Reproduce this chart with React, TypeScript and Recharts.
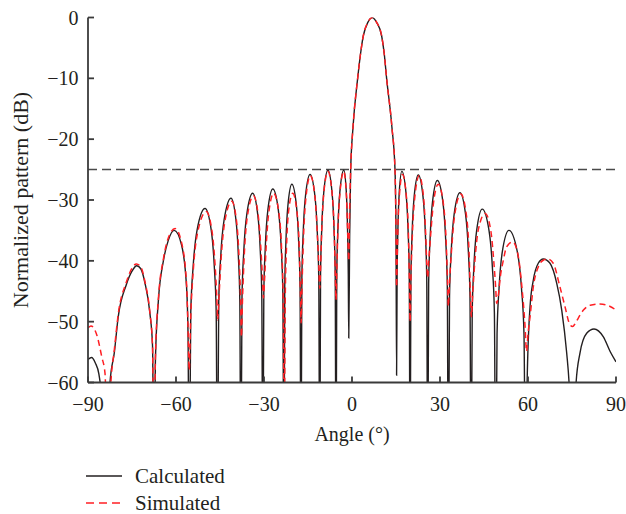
import { LineChart, Line, XAxis, YAxis, ReferenceLine, Legend } from 'recharts';

const FONT = '"Liberation Serif", "Times New Roman", serif';
const INK = '#231f20';
const AXIS = '#3a3a3a';
const RED = '#ff1f24';

// angle ticks and dB ticks
const angleTicks = [-90, -60, -30, 0, 30, 60, 90];
const dbTicks = [-60, -50, -40, -30, -20, -10, 0];
const sidelobeLimit = -25;

// calculated pattern (nulls below -60 get clipped)
const calcAngle = [
  -90, -88.8, -87.5, -86.3, -85.3, -84.0, -82.5, -81.0, -79.7, -77.0, -75.0, -73.4, -72.0, -70.6, -68.9, -68.0, -67.5,
  -67.0, -66.0, -64.3, -62.6, -60.6, -58.1, -56.4, -55.9, -55.5,
  -54.96, -54.15, -52.8, -50.1, -48.0, -46.95, -46.3, -45.9,
  -45.43, -44.74, -43.58, -41.25, -39.58, -38.74, -38.24, -37.9,
  -37.5, -36.89, -35.88, -33.85, -32.13, -31.26, -30.75, -30.4,
  -30.06, -29.55, -28.7, -27.0, -25.1, -24.15, -23.58, -23.2,
  -22.93, -22.53, -21.85, -20.5, -18.95, -18.18, -17.71, -17.4,
  -17.09, -16.63, -15.85, -14.3, -12.65, -11.83, -11.33, -11.0,
  -10.72, -10.3, -9.6, -8.2, -6.83, -6.14, -5.73, -5.45,
  -5.19, -4.79, -4.13, -2.8, -1.95, -1.53, -1.27, -1.1,
  -0.8, -0.45, 0.35, 1.93, 2.9, 3.86, 5.4, 6.9, 8.4, 10.1, 11.0, 11.8, 13.6, 14.66, 15.0, 15.2,
  15.38, 15.65, 16.1, 17.0, 18.4, 19.1, 19.52, 19.8,
  20.08, 20.5, 21.2, 22.6, 24.2, 25.0, 25.48, 25.8,
  26.13, 26.63, 27.45, 29.1, 30.98, 31.91, 32.48, 32.85,
  33.25, 33.84, 34.83, 36.8, 38.7, 39.65, 40.22, 40.6,
  40.98, 41.55, 42.5, 44.4, 46.7, 47.85, 48.54, 49.0,
  49.45, 50.13, 51.25, 53.5, 56.35, 57.78, 58.63, 59.2,
  59.7, 60.7, 61.8, 63.5, 65.2, 67.5, 69.8, 71.5, 73.2, 74.0, 75.2,
  76.4, 77.7, 80.0, 82.5, 85.7, 88.0, 90,
];
const calcDb = [
  -56.2, -55.9, -56.8, -58.6, -63, -80, -60, -55, -49.2, -44, -41.7, -40.8, -41.3, -43.6, -48.6, -54, -80,
  -56, -46.5, -40, -36.6, -35.0, -37.4, -44.3, -52, -80,
  -48.4, -40.9, -34.9, -31.4, -34.9, -40.9, -48.4, -80,
  -46.7, -39.2, -33.2, -29.7, -33.2, -39.2, -46.7, -80,
  -45.9, -38.4, -32.4, -28.9, -32.4, -38.4, -45.9, -80,
  -45.2, -37.7, -31.7, -28.2, -31.7, -37.7, -45.2, -80,
  -44.4, -36.9, -30.9, -27.4, -30.9, -36.9, -44.4, -80,
  -42.8, -35.3, -29.3, -25.8, -29.3, -35.3, -42.8, -80,
  -42.1, -34.6, -28.6, -25.1, -28.6, -34.6, -42.1, -80,
  -42.1, -34.6, -28.6, -25.1, -28.6, -34.6, -42.1, -52.7,
  -36, -25, -18, -10, -6, -3, -0.8, 0, -0.8, -3, -6, -10, -18, -25, -36, -58.8,
  -42.3, -34.8, -28.8, -25.3, -28.8, -34.8, -42.3, -80,
  -42.9, -35.4, -29.4, -25.9, -29.4, -35.4, -42.9, -80,
  -43.8, -36.3, -30.3, -26.8, -30.3, -36.3, -43.8, -80,
  -45.8, -38.3, -32.3, -28.8, -32.3, -38.3, -45.8, -80,
  -48.5, -41.0, -35.0, -31.5, -35.0, -41.0, -48.5, -80,
  -52, -44.5, -38.5, -35.0, -38.5, -44.5, -52, -80,
  -60, -47.5, -43.2, -40.4, -39.7, -40.4, -43.7, -48.1, -55.2, -60, -75,
  -60, -55.2, -51.9, -51.2, -52.5, -54.9, -56.6,
];

// simulated pattern
const simAngle = [
  -90, -89.0, -87.0, -85.3, -84.2, -83.3, -82.2, -81.0, -79.7, -77.0, -75.0, -73.5, -72.0, -70.6, -68.9, -68.0, -67.5,
  -67.0, -66.0, -64.3, -62.6, -60.3, -58.1, -56.4, -55.9, -55.5,
  -54.96, -54.1, -52.6, -49.7, -47.7, -46.7, -46.1, -45.8,
  -45.3, -44.6, -43.4, -41.0, -39.3, -38.5, -38.0, -37.7,
  -37.3, -36.7, -35.7, -33.6, -31.9, -31.0, -30.5, -30.2,
  -29.8, -29.3, -28.4, -26.7, -24.9, -24.0, -23.45, -23.1,
  -22.75, -22.3, -21.6, -20.2, -18.8, -18.0, -17.6, -17.35,
  -17.0, -16.5, -15.7, -14.2, -12.6, -11.8, -11.3, -11.0,
  -10.7, -10.3, -9.6, -8.2, -6.8, -6.1, -5.7, -5.45,
  -5.2, -4.8, -4.1, -2.8, -1.95, -1.5, -1.25, -1.1,
  -0.9, -0.45, 0.35, 1.93, 2.9, 3.86, 5.4, 6.9, 8.4, 10.1, 11.0, 11.8, 13.6, 14.66, 15.0, 15.2,
  15.4, 15.7, 16.2, 17.2, 18.5, 19.2, 19.55, 19.8,
  20.1, 20.6, 21.4, 22.9, 24.4, 25.1, 25.5, 25.8,
  26.1, 26.7, 27.7, 29.4, 31.2, 32.1, 32.55, 32.85,
  33.2, 33.9, 35.0, 37.1, 39.0, 39.9, 40.35, 40.7,
  41.2, 41.9, 43.1, 45.4, 47.4, 48.4, 49.0, 49.3,
  49.8, 50.6, 51.6, 52.7, 54.8, 56.7, 57.8, 59.0, 59.5,
  60.0, 60.7, 61.8, 63.5, 65.2, 66.7, 68.6, 70.9, 72.6, 74.3, 75.2,
  76.1, 76.8, 78.9, 81.2, 84.5, 88.0, 90,
];
const simDb = [
  -51, -50.7, -52.2, -55.8, -58.5, -72, -60, -54.5, -48.8, -43.6, -41.2, -40.5, -41.0, -43.4, -48.5, -54, -75,
  -55.5, -46.2, -39.7, -36.2, -34.7, -37.0, -43.8, -51, -58,
  -49, -41.5, -35.3, -31.9, -35.2, -40.5, -46, -49.7,
  -45.5, -39.5, -33.7, -30.2, -33.7, -39.5, -46, -52.5,
  -46, -38.8, -32.8, -29.3, -32.8, -38.5, -43, -46.1,
  -43, -38, -32.2, -28.9, -32.2, -38, -46, -70,
  -46, -37.5, -31.8, -28.9, -31.8, -37.5, -45, -50.2,
  -43.5, -35.8, -29.6, -26.0, -29.6, -35.8, -41, -44.5,
  -41, -34.8, -28.8, -25.3, -28.8, -34.8, -42, -46.4,
  -42, -34.8, -28.8, -25.3, -28.8, -34.8, -38.5, -40,
  -34, -25, -18, -10, -6, -3, -0.8, 0, -0.8, -3, -6, -10, -18, -25, -35, -44.3,
  -40, -34, -29, -25.8, -29.2, -35, -43, -50,
  -43, -35.6, -29.6, -26.0, -29.6, -35.4, -40.5, -42.8,
  -40.5, -36.5, -30.8, -27.4, -30.8, -36.8, -43, -47.5,
  -44, -38.5, -32.5, -29.0, -32.5, -38.5, -45, -49.2,
  -45, -40, -34.8, -32.2, -35.3, -40.5, -44.5, -47,
  -46, -42.5, -39.9, -37.7, -36.9, -39.3, -43.7, -50.8, -54.9,
  -52, -49.2, -44.3, -41, -39.9, -39.7, -40.4, -44.3, -47.5, -50.5, -50.8,
  -50.3, -49.7, -48.1, -47.3, -47.1, -47.5, -48.1,
];

const calcData = calcAngle.map((angle, i) => ({ angle, calc: calcDb[i] }));
const simData = simAngle.map((angle, i) => ({ angle, sim: simDb[i] }));

const fmt = (v: number) => (v < 0 ? `\u2212${Math.abs(v)}` : `${v}`);

const dashFor: Record<string, string | undefined> = { calc: undefined, sim: '8 5' };

function PatternLegend(props: any) {
  const { payload = [] } = props;
  return (
    <div style={{ fontFamily: FONT, fontSize: 21, lineHeight: '20px', color: INK }}>
      {payload.map((entry: any) => (
        <div key={entry.value} style={{ display: 'flex', alignItems: 'center', height: 27.5 }}>
          <svg width={36} height={10} style={{ marginRight: 13 }}>
            <line x1={0} y1={5} x2={36} y2={5} stroke={entry.color} strokeWidth={1.6}
              strokeDasharray={dashFor[entry.dataKey]} />
          </svg>
          <span style={{ lineHeight: '20px' }}>{entry.value}</span>
        </div>
      ))}
    </div>
  );
}

export default function App() {
  return (
    <div style={{ position: 'absolute', left: 0, top: 0, background: '#fff' }}>
      <LineChart width={626} height={514} margin={{ top: 17.5, right: 10, left: 0, bottom: 71.5 }}>
        <XAxis
          dataKey="angle"
          type="number"
          domain={[-90, 90]}
          ticks={angleTicks}
          allowDataOverflow
          height={60}
          tickFormatter={fmt}
          tickSize={-6}
          tickMargin={20}
          stroke={AXIS}
          strokeWidth={1.8}
          tick={{ fontSize: 20, fill: INK, fontFamily: FONT }}
          label={{ value: 'Angle (°)', position: 'insideBottom', offset: 2, fontSize: 20, fill: INK, fontFamily: FONT }}
        />
        <YAxis
          type="number"
          domain={[-60, 0]}
          ticks={dbTicks}
          allowDataOverflow
          width={88}
          tickFormatter={fmt}
          tickSize={-6}
          tickMargin={15.5}
          stroke={AXIS}
          strokeWidth={1.8}
          tick={{ fontSize: 20, fill: INK, fontFamily: FONT }}
          label={{
            value: 'Normalized pattern (dB)', angle: -90, position: 'insideLeft', offset: 20,
            fontSize: 22, fill: INK, fontFamily: FONT, style: { textAnchor: 'middle' },
          }}
        />
        <ReferenceLine y={sidelobeLimit} stroke="#4a4a4a" strokeWidth={1.5} strokeDasharray="9 5" />
        <Line data={calcData} dataKey="calc" name="Calculated" type="monotone" stroke={INK} strokeWidth={1.4}
          dot={false} activeDot={false} isAnimationActive={false} />
        <Line data={simData} dataKey="sim" name="Simulated" type="monotone" stroke={RED} strokeWidth={1.5}
          strokeDasharray="6 4" dot={false} activeDot={false} isAnimationActive={false} />
        <Legend
          layout="horizontal"
          verticalAlign="middle"
          align="center"
          content={<PatternLegend />}
          wrapperStyle={{ left: 86, top: 462, width: 'auto', height: 'auto' }}
        />
      </LineChart>
    </div>
  );
}
